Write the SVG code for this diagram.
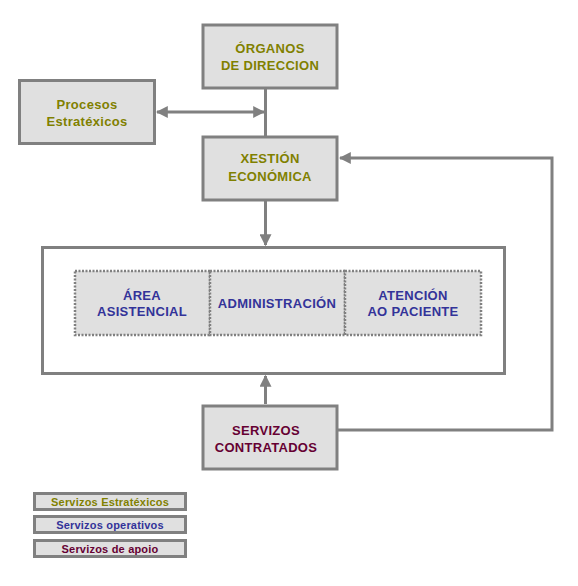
<svg xmlns="http://www.w3.org/2000/svg" width="578" height="586" viewBox="0 0 578 586">
<defs>
<style>
.box{fill:#e0e0e0;stroke:#808080;stroke-width:3}
.dot{fill:#e0e0e0;stroke:#808080;stroke-width:2.5;stroke-dasharray:2 1.5}
.big{fill:#ffffff;stroke:#808080;stroke-width:3}
.ln{fill:none;stroke:#808080;stroke-width:3}
text{font-family:"Liberation Sans",Arial,sans-serif;font-weight:bold;text-anchor:middle}
.t{font-size:13px;letter-spacing:0.3px}
.lg{font-size:11px;letter-spacing:0.2px}
.ol{fill:#808000}
.nv{fill:#333399}
.mr{fill:#660033}
</style>
<marker id="ah" viewBox="0 0 10 10" refX="9" refY="5" markerWidth="4" markerHeight="4" markerUnits="strokeWidth" orient="auto-start-reverse">
<path d="M0,0 L10,5 L0,10 z" fill="#808080"/>
</marker>
</defs>
<rect width="578" height="586" fill="#ffffff"/>
<g id="connectors">
<line class="ln" x1="265.5" y1="88" x2="265.5" y2="136"/>
<line class="ln" x1="157" y1="112" x2="264" y2="112" marker-start="url(#ah)" marker-end="url(#ah)"/>
<line class="ln" x1="265.5" y1="200" x2="265.5" y2="245" marker-end="url(#ah)"/>
<line class="ln" x1="265.5" y1="404" x2="265.5" y2="376" marker-end="url(#ah)"/>
<polyline class="ln" points="338,430 552,430 552,158 340,158" marker-end="url(#ah)"/>
</g>
<g id="organos">
<rect class="box" x="203" y="25" width="134" height="63"/>
<text class="t ol" x="270" y="53">ÓRGANOS</text>
<text class="t ol" x="270" y="70">DE DIRECCION</text>
</g>
<g id="procesos">
<rect class="box" x="19.5" y="80.5" width="135" height="63"/>
<text class="t ol" x="87" y="109">Procesos</text>
<text class="t ol" x="87" y="126">Estratéxicos</text>
</g>
<g id="xestion">
<rect class="box" x="203" y="137" width="134" height="63"/>
<text class="t ol" x="270" y="163">XESTIÓN</text>
<text class="t ol" x="270" y="181">ECONÓMICA</text>
</g>
<g id="contenedor">
<rect class="big" x="42.5" y="247.5" width="462" height="126"/>
</g>
<g id="area">
<rect class="dot" x="75" y="271" width="135" height="64"/>
<text class="t nv" x="142" y="300">ÁREA</text>
<text class="t nv" x="142" y="316">ASISTENCIAL</text>
</g>
<g id="administracion">
<rect class="dot" x="210" y="271" width="135" height="64"/>
<text class="t nv" x="277" y="308">ADMINISTRACIÓN</text>
</g>
<g id="atencion">
<rect class="dot" x="345" y="271" width="136" height="64"/>
<text class="t nv" x="413" y="300">ATENCIÓN</text>
<text class="t nv" x="413" y="316">AO PACIENTE</text>
</g>
<g id="servizos">
<rect class="box" x="203" y="406" width="134" height="63"/>
<text class="t mr" x="266" y="435">SERVIZOS</text>
<text class="t mr" x="266" y="452">CONTRATADOS</text>
</g>
<g id="legend1">
<rect class="box" x="34.5" y="493.5" width="151" height="16"/>
<text class="lg ol" x="110" y="506">Servizos Estratéxicos</text>
</g>
<g id="legend2">
<rect class="box" x="34.5" y="516.5" width="151" height="16"/>
<text class="lg nv" x="110" y="529">Servizos operativos</text>
</g>
<g id="legend3">
<rect class="box" x="34.5" y="540.5" width="151" height="16"/>
<text class="lg mr" x="110" y="553">Servizos de apoio</text>
</g>
</svg>
